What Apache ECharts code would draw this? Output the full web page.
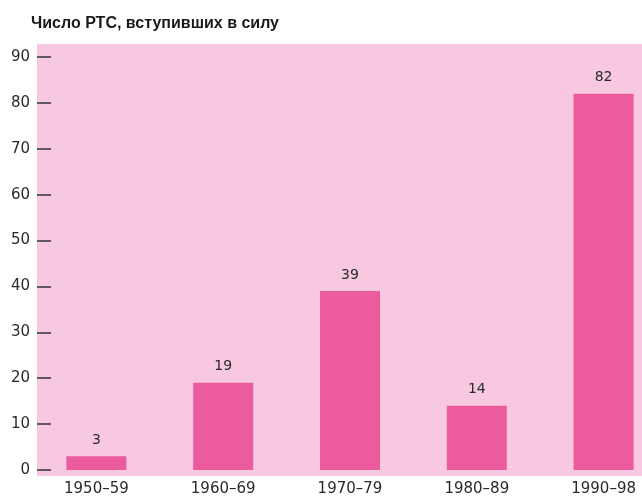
<!DOCTYPE html>
<html>
<head>
<meta charset="utf-8">
<script src="https://cdn.jsdelivr.net/npm/echarts@6/dist/echarts.min.js"></script>
<style>
  html, body { margin: 0; padding: 0; background: #ffffff; }
  #chart { width: 642px; height: 501px; }
</style>
</head>
<body>
<div id="chart"></div>
<script>
  // данные
  let periods = ['1950–59', '1960–69', '1970–79', '1980–89', '1990–98']
  let counts = [3, 19, 39, 14, 82]
  let titleText = 'Число РТС, вступивших в силу'

  let myChart = echarts.init(document.getElementById('chart'))

  let option = {
    backgroundColor: '#ffffff',
    textStyle: { fontFamily: 'DejaVu Sans, sans-serif' },
    title: {
      text: titleText,
      left: 26,
      top: 11,
      textStyle: { fontSize: 16, fontWeight: 'bold', color: '#1a1a1a', fontFamily: 'Liberation Sans, Arial, sans-serif' }
    },
    // розовая подложка
    graphic: [
      {
        type: 'rect',
        z: -1,
        shape: { x: 37, y: 44, width: 605, height: 432 },
        style: { fill: '#f7c8e0' }
      }
    ],
    grid: {
      left: 33,
      top: 57,
      width: 634,
      height: 413,
      outerBoundsMode: 'none'
    },
    xAxis: {
      type: 'category',
      data: periods,
      axisLine: { show: false },
      axisTick: { show: false },
      axisLabel: { margin: 12, fontSize: 15, color: '#2a2a2a' }
    },
    yAxis: {
      type: 'value',
      min: 0,
      max: 90,
      interval: 10,
      offset: -4,
      axisLine: { show: false },
      axisTick: { show: true, inside: true, length: 14, lineStyle: { color: '#333', width: 1.5 } },
      splitLine: { show: false },
      axisLabel: { margin: 7, fontSize: 15, color: '#2a2a2a' }
    },
    series: [
      {
        type: 'bar',
        data: counts,
        barWidth: 60,
        itemStyle: { color: '#ec5b9d' },
        label: {
          show: true,
          position: 'top',
          distance: 9,
          fontSize: 14,
          color: '#2a2a2a'
        }
      }
    ]
  }

  myChart.setOption(option)
</script>
</body>
</html>
